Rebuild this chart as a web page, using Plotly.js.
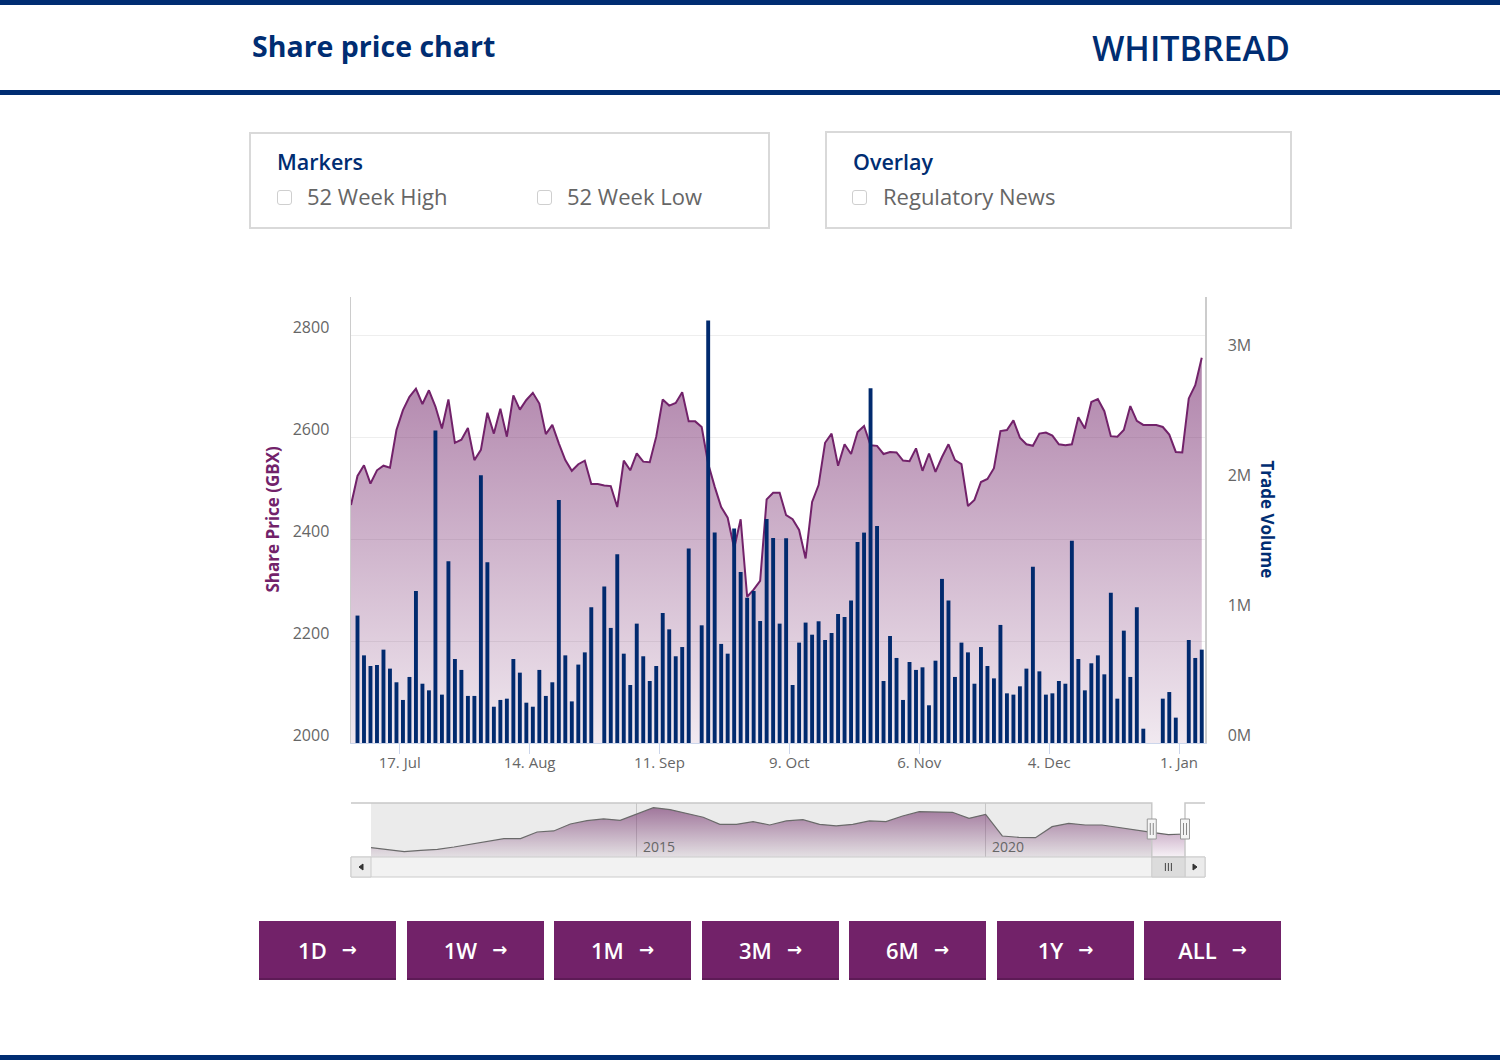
<!DOCTYPE html>
<html>
<head>
<meta charset="utf-8">
<script src="https://cdn.plot.ly/plotly-3.0.1.min.js"></script>
<style>
html,body{margin:0;padding:0;background:#fff;width:1500px;height:1060px;overflow:hidden;font-family:'Open Sans',sans-serif;}
#chart{position:absolute;left:0;top:0;width:1500px;height:1060px;}
.rule{position:absolute;left:0;width:1500px;background:#002d72;}
.abs{position:absolute;line-height:1;white-space:nowrap;}
.box{position:absolute;border:2px solid #d9d9d9;box-sizing:border-box;background:#fff;}
.boxtitle{position:absolute;font-size:21.5px;font-weight:600;color:#002d72;line-height:1;}
.cb{position:absolute;width:15px;height:15px;border:1px solid #cfcfcf;border-radius:3px;box-sizing:border-box;background:#fff;}
.cblabel{position:absolute;font-size:22px;color:#666;line-height:1;white-space:nowrap;}
.btn{position:absolute;top:921px;width:137px;height:59px;background:#722269;border-bottom:2px solid #5d1b56;box-sizing:border-box;color:#fff;display:flex;align-items:center;justify-content:center;font-size:22px;font-weight:600;}
.btn .arr{font-family:'DejaVu Sans',sans-serif;font-size:18px;font-weight:700;margin-left:15px;}
</style>
</head>
<body>
<div id="chart"></div>

<div class="rule" style="top:0;height:5px;"></div>
<div class="rule" style="top:90px;height:5px;"></div>
<div class="rule" style="top:1055px;height:5px;"></div>
<div class="abs" style="left:252px;top:32px;font-size:28.5px;font-weight:700;color:#002d72;">Share price chart</div>
<div class="abs" style="right:210px;top:31px;font-size:34px;font-weight:600;color:#002d72;">WHITBREAD</div>

<div class="box" style="left:249px;top:132px;width:521px;height:97px;"></div>
<div class="boxtitle" style="left:277px;top:151px;">Markers</div>
<div class="cb" style="left:277px;top:190px;"></div>
<div class="cblabel" style="left:307px;top:185px;">52 Week High</div>
<div class="cb" style="left:537px;top:190px;"></div>
<div class="cblabel" style="left:567px;top:185px;">52 Week Low</div>

<div class="box" style="left:825px;top:131px;width:467px;height:98px;"></div>
<div class="boxtitle" style="left:853px;top:151px;">Overlay</div>
<div class="cb" style="left:852px;top:190px;"></div>
<div class="cblabel" style="left:883px;top:185px;">Regulatory News</div>

<div id="buttons"></div>

<script>
// ---------------- DATA ----------------
const dates = [
'2023-07-05','2023-07-06','2023-07-07',
'2023-07-10','2023-07-11','2023-07-12','2023-07-13','2023-07-14',
'2023-07-17','2023-07-18','2023-07-19','2023-07-20','2023-07-21',
'2023-07-24','2023-07-25','2023-07-26','2023-07-27','2023-07-28',
'2023-07-31','2023-08-01','2023-08-02','2023-08-03','2023-08-04',
'2023-08-07','2023-08-08','2023-08-09','2023-08-10','2023-08-11',
'2023-08-14','2023-08-15','2023-08-16','2023-08-17','2023-08-18',
'2023-08-21','2023-08-22','2023-08-23','2023-08-24','2023-08-25',
'2023-08-28','2023-08-29','2023-08-30','2023-08-31','2023-09-01',
'2023-09-04','2023-09-05','2023-09-06','2023-09-07','2023-09-08',
'2023-09-11','2023-09-12','2023-09-13','2023-09-14','2023-09-15',
'2023-09-18','2023-09-19','2023-09-20','2023-09-21','2023-09-22',
'2023-09-25','2023-09-26','2023-09-27','2023-09-28','2023-09-29',
'2023-10-02','2023-10-03','2023-10-04','2023-10-05','2023-10-06',
'2023-10-09','2023-10-10','2023-10-11','2023-10-12','2023-10-13',
'2023-10-16','2023-10-17','2023-10-18','2023-10-19','2023-10-20',
'2023-10-23','2023-10-24','2023-10-25','2023-10-26','2023-10-27',
'2023-10-30','2023-10-31','2023-11-01','2023-11-02','2023-11-03',
'2023-11-06','2023-11-07','2023-11-08','2023-11-09','2023-11-10',
'2023-11-13','2023-11-14','2023-11-15','2023-11-16','2023-11-17',
'2023-11-20','2023-11-21','2023-11-22','2023-11-23','2023-11-24',
'2023-11-27','2023-11-28','2023-11-29','2023-11-30','2023-12-01',
'2023-12-04','2023-12-05','2023-12-06','2023-12-07','2023-12-08',
'2023-12-11','2023-12-12','2023-12-13','2023-12-14','2023-12-15',
'2023-12-18','2023-12-19','2023-12-20','2023-12-21','2023-12-22',
'2023-12-25','2023-12-26','2023-12-27','2023-12-28','2023-12-29',
'2024-01-01','2024-01-02','2024-01-03','2024-01-04'
];

// Share price (GBX)
const sharePrice = [
2467,2524,2545,
2509,2535,2544,2540,2614,
2653,2679,2695,2665,2692,
2660,2617,2674,2589,2595,
2618,2555,2575,2648,2607,
2656,2601,2682,2654,2673,
2687,2666,2606,2624,2588,
2555,2534,2547,2554,2508,
2508,2505,2504,2463,2554,
2535,2568,2552,2551,2601,
2674,2662,2667,2688,2631,
2631,2620,2548,2503,2463,
2442,2382,2439,2287,2301,
2318,2478,2491,2491,2447,
2439,2418,2362,2473,2506,
2589,2607,2544,2586,2567,
2610,2622,2584,2583,2567,
2571,2570,2554,2553,2578,
2534,2568,2532,2561,2586,
2555,2547,2465,2477,2512,
2518,2539,2612,2614,2633,
2599,2586,2583,2607,2609,
2603,2586,2584,2586,2639,
2617,2669,2675,2651,2602,
2601,2614,2661,2632,2624,
2624,2624,2620,2605,2571,
2570,2676,2702,2756
];

// Trade volume (millions of shares)
const volumeM = [
null,0.98,0.674,
0.592,0.60,0.718,0.572,0.467,
0.331,0.508,1.169,0.456,0.405,
2.403,0.372,1.397,0.646,0.562,
0.362,0.362,2.059,1.39,0.279,
0.331,0.341,0.646,0.541,0.31,
0.279,0.562,0.362,0.467,1.869,
0.674,0.32,0.603,0.697,1.044,
0,1.203,0.885,1.451,0.687,
0.446,0.918,0.667,0.477,0.592,
1.0,0.874,0.667,0.738,1.495,
0,0.905,3.249,1.618,0.762,
0.687,1.649,1.315,1.118,1.169,
0.938,1.723,1.577,0.918,1.574,
0.446,0.772,0.926,0.833,0.936,
0.792,0.846,0.992,0.969,1.095,
1.546,1.618,2.728,1.669,0.477,
0.823,0.654,0.331,0.623,0.562,
0.582,0.29,0.633,1.262,1.095,
0.508,0.772,0.697,0.456,0.738,
0.592,0.497,0.908,0.382,0.372,
0.436,0.572,1.356,0.551,0.372,
0.382,0.477,0.456,1.556,0.646,
0.405,0.613,0.674,0.528,1.156,
0.341,0.864,0.508,1.044,0.11,
0,0,0.341,0.392,0.195,
0,0.792,0.654,0.718
];

const tickDates = ['2023-07-17','2023-08-14','2023-09-11','2023-10-09','2023-11-06','2023-12-04','2024-01-01'];
const priceTicks = [2000,2200,2400,2600,2800];
const volumeTicks = [0,1,2,3];
const volumeTickText = ['0M','1M','2M','3M'];

// Navigator: long-run history (sampled, ordinal spacing)
const navDates = [
'2011-01','2011-04','2011-07','2011-10','2012-01','2012-04','2012-07','2012-10',
'2013-01','2013-04','2013-07','2013-10','2014-01','2014-04','2014-07','2014-10',
'2015-01','2015-04','2015-07','2015-10','2015-12','2016-03','2016-06','2016-09',
'2016-12','2017-03','2017-06','2017-08','2017-11','2018-02','2018-05','2018-08',
'2018-11','2019-02','2019-04','2019-07','2019-10','2020-01','2020-05','2020-09',
'2021-02','2021-06','2021-10','2022-02','2022-06','2022-11','2023-03','2023-07',
'2023-10','2024-01'
];
const navPrice = [
1819,1726,1597,1671,1726,1856,2023,2171,
2319,2319,2690,2746,3135,3320,3413,3339,
3691,4043,3932,3709,3506,3116,3116,3264,
3079,3302,3376,3116,3024,3116,3302,3264,
3580,3820,3802,3784,3450,3672,2468,2393,
2375,2987,3172,3079,3079,2931,2783,2671,
2542,2579
];
const navYearTicks = ['2015','2020'];
const navWindowStart = '2023-07';

const buttonLabels = ['1D','1W','1M','3M','6M','1Y','ALL'];

// ---------------- HTML buttons ----------------
const btnLeft = [259,407,554,702,849,997,1144];
const bwrap = document.getElementById('buttons');
buttonLabels.forEach((t,i)=>{
  const d = document.createElement('div');
  d.className='btn';
  d.style.left = btnLeft[i]+'px';
  d.innerHTML = '<span>'+t+'</span><span class="arr">\u2192</span>';
  bwrap.appendChild(d);
});

// ---------------- geometry helpers (pixel -> paper) ----------------
const L=351, R=1205, T=297, B=877;
const W=R-L, H=B-T;
const PX = x => (x-L)/W;
const PY = y => (B-y)/H;
const NAV_L=371, NAV_R=1185, NAV_T=803, NAV_B=857;
const navIdx = navDates.map((d,i)=>i);
const navN = navDates.length-1;
const navPx = i => NAV_L + i*(NAV_R-NAV_L)/navN;
const iStart = navDates.indexOf(navWindowStart);
const iEnd = navN;
const xs = navPx(iStart), xe = navPx(iEnd);
const navTickIdx = navYearTicks.map(y => navDates.findIndex(d => d.startsWith(y)));

const purple = '#72226a';
const navy = '#012a6e';

const traces = [
  {
    type:'scatter', mode:'lines', x:dates, y:sharePrice,
    xperiod:86400000, xperiodalignment:'middle',
    line:{color:purple, width:2},
    fill:'tozeroy',
    fillgradient:{type:'vertical', start:2000, stop:2875,
      colorscale:[[0,'rgba(114,35,105,0.10)'],[1,'rgba(114,35,105,0.64)']]},
    xaxis:'x', yaxis:'y', hoverinfo:'skip'
  },
  {
    type:'bar', x:dates, y:volumeM,
    xperiod:86400000, xperiodalignment:'middle',
    marker:{color:navy, line:{width:0}},
    xaxis:'x', yaxis:'y2', hoverinfo:'skip'
  },
  {
    type:'scatter', mode:'lines', x:navIdx, y:navPrice,
    line:{color:'#666666', width:1.2},
    fill:'tozeroy',
    fillgradient:{type:'vertical', start:1300, stop:4300,
      colorscale:[[0,'rgba(114,35,105,0.06)'],[1,'rgba(114,35,105,0.68)']]},
    xaxis:'x2', yaxis:'y3', hoverinfo:'skip'
  }
];

const grey = '#cccccc';
const shapes = [
  {type:'rect', xref:'x2', yref:'paper', x0:0, x1:iStart, y0:PY(NAV_B), y1:PY(NAV_T),
   fillcolor:'rgba(128,128,128,0.16)', line:{width:0}, layer:'above'},
  {type:'rect', xref:'paper', yref:'paper', x0:PX(351), x1:PX(1205), y0:PY(877), y1:PY(857),
   fillcolor:'#f2f2f2', line:{color:grey, width:1}, layer:'above'},
  {type:'rect', xref:'paper', yref:'paper', x0:PX(351), x1:PX(371), y0:PY(877), y1:PY(857),
   fillcolor:'#ebebeb', line:{color:grey, width:1}, layer:'above'},
  {type:'rect', xref:'paper', yref:'paper', x0:PX(1185), x1:PX(1205), y0:PY(877), y1:PY(857),
   fillcolor:'#ebebeb', line:{color:grey, width:1}, layer:'above'},
  {type:'rect', xref:'paper', yref:'paper', x0:PX(xs), x1:PX(xe), y0:PY(877), y1:PY(857),
   fillcolor:'#dcdcdc', line:{color:grey, width:1}, layer:'above'},
  {type:'path', xref:'paper', yref:'paper',
   path:`M ${PX(363)},${PY(864)} L ${PX(359)},${PY(867)} L ${PX(363)},${PY(870)} Z`,
   fillcolor:'#333', line:{color:'#333', width:1}, layer:'above'},
  {type:'path', xref:'paper', yref:'paper',
   path:`M ${PX(1193)},${PY(864)} L ${PX(1197)},${PY(867)} L ${PX(1193)},${PY(870)} Z`,
   fillcolor:'#333', line:{color:'#333', width:1}, layer:'above'},
  {type:'path', xref:'paper', yref:'paper',
   path:`M ${PX(351)},${PY(NAV_T)} L ${PX(xs)},${PY(NAV_T)} L ${PX(xs)},${PY(NAV_B)} L ${PX(xe)},${PY(NAV_B)} L ${PX(xe)},${PY(NAV_T)} L ${PX(1205)},${PY(NAV_T)}`,
   line:{color:'#c8c8c8', width:1.5}, layer:'above'}
];
const mid = (xs+xe)/2;
[-3,0,3].forEach(o=>shapes.push({type:'line', xref:'paper', yref:'paper',
  x0:PX(mid+o), x1:PX(mid+o), y0:PY(863), y1:PY(871), line:{color:'#444', width:1}, layer:'above'}));
[xs,xe].forEach(hx=>{
  shapes.push({type:'rect', xref:'paper', yref:'paper', x0:PX(hx-4.5), x1:PX(hx+4.5), y0:PY(839), y1:PY(819),
    fillcolor:'#f4f4f4', line:{color:'#999', width:1}, layer:'above'});
  [-1.5,1.5].forEach(o=>shapes.push({type:'line', xref:'paper', yref:'paper',
    x0:PX(hx+o), x1:PX(hx+o), y0:PY(823), y1:PY(835), line:{color:'#888', width:1}, layer:'above'}));
});

const annotations = [
  {text:'Share Price (GBX)', xref:'paper', yref:'paper', x:PX(272), y:PY(519.5), textangle:-90,
   showarrow:false, xanchor:'center', yanchor:'middle',
   font:{family:'Open Sans', size:17, color:purple, weight:700}},
  {text:'Trade Volume', xref:'paper', yref:'paper', x:PX(1267), y:PY(519.5), textangle:90,
   showarrow:false, xanchor:'center', yanchor:'middle',
   font:{family:'Open Sans', size:17, color:'#002d72', weight:700}}
];
navYearTicks.forEach((t,k)=>annotations.push({
  text:t, xref:'x2', yref:'paper', x:navTickIdx[k], y:PY(846), xanchor:'left', yanchor:'middle',
  xshift:4, showarrow:false, font:{family:'Open Sans', size:14, color:'#666'}
}));

const layout = {
  width:1500, height:1060,
  margin:{l:L, r:1500-R, t:T, b:1060-B, pad:0},
  paper_bgcolor:'rgba(0,0,0,0)', plot_bgcolor:'rgba(0,0,0,0)',
  showlegend:false, bargap:0.4,
  font:{family:'Open Sans', size:16, color:'#666'},
  xaxis:{domain:[0,1], anchor:'y', type:'date',
    range:['2023-07-05 12:00','2024-01-05 00:00'],
    rangebreaks:[{bounds:['sat','mon']}],
    tickmode:'array', tickvals:tickDates, tickformat:'%-d. %b',
    ticks:'outside', ticklen:10, tickcolor:'#ccd6eb', tickwidth:1,
    ticklabelstandoff:-4,
    showgrid:false, zeroline:false, showline:true, linecolor:'#ccd6eb', linewidth:1,
    tickfont:{family:'Open Sans', size:15, color:'#666'}},
  yaxis:{domain:[PY(743),1], anchor:'x', range:[2000,2875],
    tickmode:'array', tickvals:priceTicks,
    showgrid:true, gridcolor:'#eeeeee', gridwidth:1, zeroline:false,
    showline:true, linecolor:grey, linewidth:1.5, ticks:'',
    ticklabelstandoff:17, ticklabelshift:-8,
    tickfont:{family:'Open Sans', size:16, color:'#666'}},
  yaxis2:{overlaying:'y', side:'right', anchor:'x', range:[0,3.43],
    tickmode:'array', tickvals:volumeTicks, ticktext:volumeTickText,
    showgrid:false, zeroline:false, showline:true, linecolor:grey, linewidth:1.5, ticks:'',
    ticklabelstandoff:18, ticklabelshift:-8,
    tickfont:{family:'Open Sans', size:16, color:'#666'}},
  xaxis2:{domain:[PX(NAV_L),PX(NAV_R)], anchor:'y3', range:[0,navN],
    tickmode:'array', tickvals:navTickIdx, showticklabels:false,
    showgrid:true, gridcolor:'#d4d4d4', gridwidth:1, zeroline:false, showline:false, ticks:''},
  yaxis3:{domain:[PY(NAV_B),PY(NAV_T)], anchor:'x2', range:[1300,4300], visible:false},
  shapes:shapes,
  annotations:annotations
};

Plotly.newPlot('chart', traces, layout, {staticPlot:true, displayModeBar:false});
</script>
</body>
</html>
